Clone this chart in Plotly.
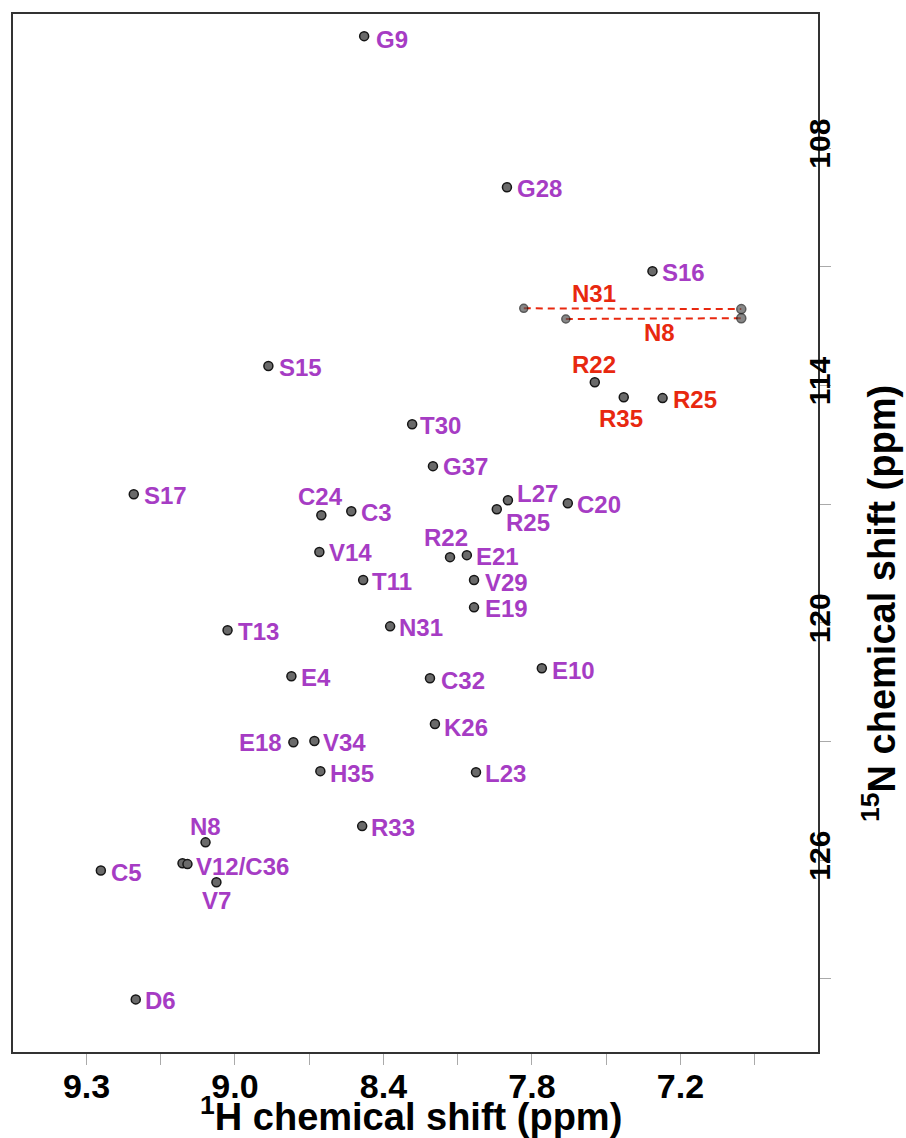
import plotly.graph_objects as go

# ---------------- data (ppm) ----------------
# backbone amide peaks
bb_names = ["G9", "G28", "S16", "S15", "T30", "G37", "S17", "C24", "C3", "L27",
            "R25", "C20", "V14", "R22", "E21", "T11", "V29", "E19", "T13", "N31",
            "E4", "C32", "E10", "K26", "E18", "V34", "H35", "L23", "R33", "N8",
            "V12", "C36", "V7", "C5", "D6"]
bb_labels = ["G9", "G28", "S16", "S15", "T30", "G37", "S17", "C24", "C3", "L27",
             "R25", "C20", "V14", "R22", "E21", "T11", "V29", "E19", "T13", "N31",
             "E4", "C32", "E10", "K26", "E18", "V34", "H35", "L23", "R33", "N8",
             "", "V12/C36", "V7", "C5", "D6"]
bb_h = [8.478, 7.901, 7.313, 8.865, 8.284, 8.200, 9.409, 8.651, 8.530, 7.897,
        7.942, 7.655, 8.659, 8.131, 8.063, 8.482, 8.034, 8.034, 9.030, 8.373,
        8.772, 8.212, 7.760, 8.192, 8.764, 8.679, 8.655, 8.026, 8.486, 9.119,
        9.212, 9.192, 9.075, 9.542, 9.401]
bb_n = [105.17, 108.99, 111.11, 113.51, 114.98, 116.04, 116.75, 117.28, 117.18, 116.90,
        117.13, 116.98, 118.21, 118.34, 118.29, 118.92, 118.92, 119.61, 120.19, 120.09,
        121.35, 121.40, 121.15, 122.56, 123.02, 122.99, 123.75, 123.78, 125.14, 125.55,
        126.08, 126.10, 126.56, 126.26, 129.52]

# side-chain NH2 pairs (Asn): two protons share one 15N
nh2_names = ["N31", "N8"]
nh2_h_a = [7.833, 7.663]
nh2_h_b = [6.954, 6.954]
nh2_n_a = [112.05, 112.32]
nh2_n_b = [112.07, 112.30]

# side-chain Arg NHe peaks
arg_names = ["R22", "R35", "R25"]
arg_h = [7.546, 7.429, 7.272]
arg_n = [113.92, 114.30, 114.32]

x_tick_vals = [9.6, 9.3, 9.0, 8.7, 8.4, 8.1, 7.8, 7.5, 7.2, 6.9]
x_tick_text = ["9.3", "", "9.0", "", "8.4", "", "7.8", "", "7.2", ""]
y_tick_vals = [108, 111, 114, 117, 120, 123, 126, 129]
y_tick_text = ["108", "", "114", "", "120", "", "126", ""]

X_RANGE = [9.897, 6.644]
Y_RANGE = [130.85, 104.61]

# ---------------- style ----------------
PURPLE = "#a63cc4"
RED = "#e8280f"
FONT = "Liberation Sans, Arial, Helvetica, sans-serif"

# label placement (pixel offsets from peak, anchor)
bb_label_pos = {
    "G9": (10, -3, "left"), "G28": (8, -1, "left"), "S16": (8, -1, "left"),
    "S15": (9, -1, "left"), "T30": (6, -1, "left"), "G37": (8, 0, "left"),
    "S17": (8, -1, "left"), "C24": (-1, 19, "center"), "C3": (8, -1, "left"),
    "L27": (7, 7, "left"), "R25": (31, -13, "center"), "C20": (7, -1, "left"),
    "V14": (8, -1, "left"), "R22": (-4, 20, "center"), "E21": (7, -1, "left"),
    "T11": (7, -1, "left"), "V29": (9, -2, "left"), "E19": (9, -1, "left"),
    "T13": (8, -1, "left"), "N31": (7, -1, "left"), "E4": (8, -1, "left"),
    "C32": (9, -2, "left"), "E10": (8, -2, "left"), "K26": (7, -3, "left"),
    "E18": (-9, 0, "right"), "V34": (7, -1, "left"), "H35": (8, -2, "left"),
    "L23": (7, -1, "left"), "R33": (7, -1, "left"), "N8": (0, 16, "center"),
    "V12": (0, 0, "left"), "C36": (7, -2, "left"), "V7": (0, -18, "center"),
    "C5": (8, -2, "left"), "D6": (7, -1, "left"),
}
nh2_label_pos = {"N31": (70, 15, "center"), "N8": (94, -14, "center")}
arg_label_pos = {"R22": (-1, 18, "center"), "R35": (-3, -21, "center"),
                 "R25": (8, -1, "left")}

marker_style = dict(symbol="circle", size=9, color="#6a6a6a",
                    line=dict(color="#151515", width=1.5))

fig = go.Figure()

# dashed lines linking the two NH2 protons
for i, nm in enumerate(nh2_names):
    fig.add_trace(go.Scatter(x=[nh2_h_a[i], nh2_h_b[i]], y=[nh2_n_a[i], nh2_n_b[i]],
                             mode="lines", line=dict(color=RED, width=2, dash="7px,5px"),
                             hoverinfo="skip", showlegend=False))

# NH2 peaks
fig.add_trace(go.Scatter(x=nh2_h_a + nh2_h_b, y=nh2_n_a + nh2_n_b, mode="markers",
                         marker=dict(symbol="circle", size=[8, 8, 9, 9], color="#555555",
                                     line=dict(color="#151515", width=1.5)),
                         showlegend=False))
# Arg peaks
fig.add_trace(go.Scatter(x=arg_h, y=arg_n, mode="markers", marker=marker_style,
                         showlegend=False))
# backbone peaks
fig.add_trace(go.Scatter(x=bb_h, y=bb_n, mode="markers", marker=marker_style,
                         text=bb_names, showlegend=False))

annotations = []
for nm, lab, hx, ny in zip(bb_names, bb_labels, bb_h, bb_n):
    if not lab:
        continue
    dx, dy, anc = bb_label_pos[nm]
    annotations.append(dict(x=hx, y=ny, xref="x", yref="y", text=lab, showarrow=False,
                            xanchor=anc, yanchor="middle", xshift=dx, yshift=dy,
                            font=dict(family=FONT, size=24, color=PURPLE, weight="bold")))
for i, nm in enumerate(nh2_names):
    dx, dy, anc = nh2_label_pos[nm]
    annotations.append(dict(x=nh2_h_a[i], y=nh2_n_a[i], xref="x", yref="y", text=nm,
                            showarrow=False, xanchor=anc, yanchor="middle", xshift=dx, yshift=dy,
                            font=dict(family=FONT, size=24, color=RED, weight="bold")))
for nm, hx, ny in zip(arg_names, arg_h, arg_n):
    dx, dy, anc = arg_label_pos[nm]
    annotations.append(dict(x=hx, y=ny, xref="x", yref="y", text=nm, showarrow=False,
                            xanchor=anc, yanchor="middle", xshift=dx, yshift=dy,
                            font=dict(family=FONT, size=24, color=RED, weight="bold")))

# axis titles
annotations.append(dict(x=0.494, y=0, xref="paper", yref="paper", yshift=-62,
                        text="<sup>1</sup>H chemical shift (ppm)", showarrow=False,
                        xanchor="center", yanchor="middle",
                        font=dict(family=FONT, size=38, color="black", weight="bold")))
annotations.append(dict(x=1, y=0.4316, xref="paper", yref="paper", xshift=61,
                        text="<sup>15</sup>N chemical shift (ppm)", showarrow=False,
                        textangle=-90, xanchor="center", yanchor="middle",
                        font=dict(family=FONT, size=38, color="black", weight="bold")))

frame_axis = dict(tickmode="array", ticks="outside", ticklen=11, tickwidth=1,
                  tickcolor="#aaaaaa", showline=True, mirror=True, linecolor="#333333",
                  linewidth=1.5, showgrid=False, zeroline=False, showticklabels=False)
label_axis = dict(tickmode="array", ticks="", showline=False, showgrid=False,
                  zeroline=False)

fig.update_layout(
    width=906, height=1138,
    margin=dict(l=11, r=88, t=14, b=86),
    paper_bgcolor="white", plot_bgcolor="white",
    showlegend=False,
    annotations=annotations,
    xaxis=dict(frame_axis, range=X_RANGE, tickvals=x_tick_vals),
    yaxis=dict(frame_axis, range=Y_RANGE, side="right", tickvals=y_tick_vals),
    xaxis2=dict(label_axis, range=X_RANGE, overlaying="x", anchor="y",
                side="bottom", tickvals=x_tick_vals, ticktext=x_tick_text,
                ticklabelstandoff=11,
                tickfont=dict(family=FONT, size=34, color="black", weight="bold")),
    yaxis2=dict(label_axis, range=Y_RANGE, overlaying="y", anchor="free",
                position=0.977, side="right",
                tickvals=y_tick_vals, ticktext=y_tick_text, tickangle=-90,
                ticklabelstandoff=0,
                tickfont=dict(family=FONT, size=30, color="black", weight="bold")),
)
# an invisible trace so the label axes are drawn
fig.add_trace(go.Scatter(x=[X_RANGE[0]], y=[Y_RANGE[0]], xaxis="x2", yaxis="y2",
                         mode="markers", marker=dict(opacity=0), hoverinfo="skip",
                         showlegend=False))

fig.write_html("out.html")
